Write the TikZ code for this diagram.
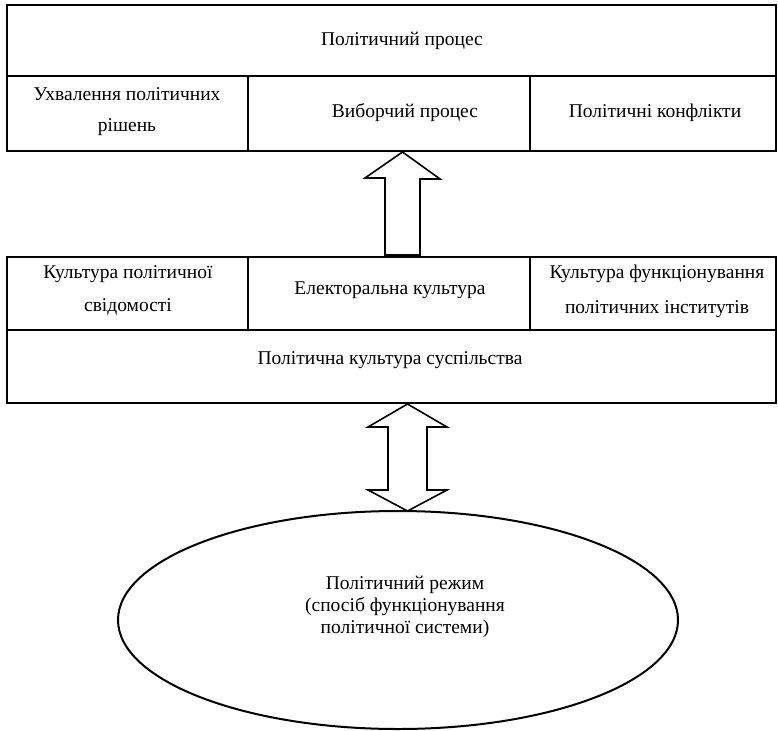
\documentclass[tikz,border=0pt]{standalone}
\usepackage{fontspec}
\setmainfont{Liberation Serif}
\begin{document}
\begin{tikzpicture}[x=1pt,y=-1pt,
  cell/.style={draw=black,line width=2pt,minimum width=#1,inner sep=0pt},
  txt/.style={font=\fontsize{19.5}{28}\selectfont,align=center,inner sep=0pt},
  blockarrow/.style={draw=black,line width=1.6pt,fill=white,line join=miter}]
\useasboundingbox (0,0) rectangle (778,730);
% top box
\node[cell=769pt,minimum height=71pt] (pp) at (391.5,40.5) {};
\node[cell=241pt,minimum height=75pt] (c1) at (127.5,113.5) {};
\node[cell=282pt,minimum height=75pt] (c2) at (389,113.5) {};
\node[cell=246pt,minimum height=75pt] (c3) at (653,113.5) {};
\node[txt] (tpp) at (402,41) {Політичний процес};
\node[txt,font=\fontsize{19.5}{31}\selectfont] (t1) at (127,112) {Ухвалення політичних\\рішень};
\node[txt] (t2) at (405,113) {Виборчий процес};
\node[txt] (t3) at (655,113) {Політичні конфлікти};
% second box
\node[cell=241pt,minimum height=73pt] (d1) at (127.5,293.5) {};
\node[cell=282pt,minimum height=73pt] (d2) at (389,293.5) {};
\node[cell=246pt,minimum height=73pt] (d3) at (653,293.5) {};
\node[cell=769pt,minimum height=73pt] (pk) at (391.5,366.5) {};
\node[txt,font=\fontsize{19.5}{33}\selectfont] (u1) at (128,290) {Культура політичної\\свідомості};
\node[txt] (u2) at (390,290) {Електоральна культура};
\node[txt,font=\fontsize{19.5}{35}\selectfont] (u3) at (657,291) {Культура функціонування\\політичних інститутів};
\node[txt] (upk) at (390,360) {Політична культура суспільства};
% ellipse
\draw[line width=2pt] (398,620) ellipse [x radius=280, y radius=109];
\node[txt,font=\fontsize{19.5}{22}\selectfont] (reg) at (405,607) {Політичний режим\\(спосіб функціонування\\політичної системи)};
% up arrow
\draw[blockarrow] (c2.south -| 402.5,0) -- ++(37.5,27) -- ++(-20,0) -- (420,255) -- (385,255) -- (385,178) -- (365,178) -- cycle;
% double arrow
\draw[blockarrow] (407.5,404) -- (447,427) -- (427,427) -- (427,490) -- (447,490) -- (407.5,511) -- (368,490) -- (388,490) -- (388,427) -- (368,427) -- cycle;
\end{tikzpicture}
\end{document}
